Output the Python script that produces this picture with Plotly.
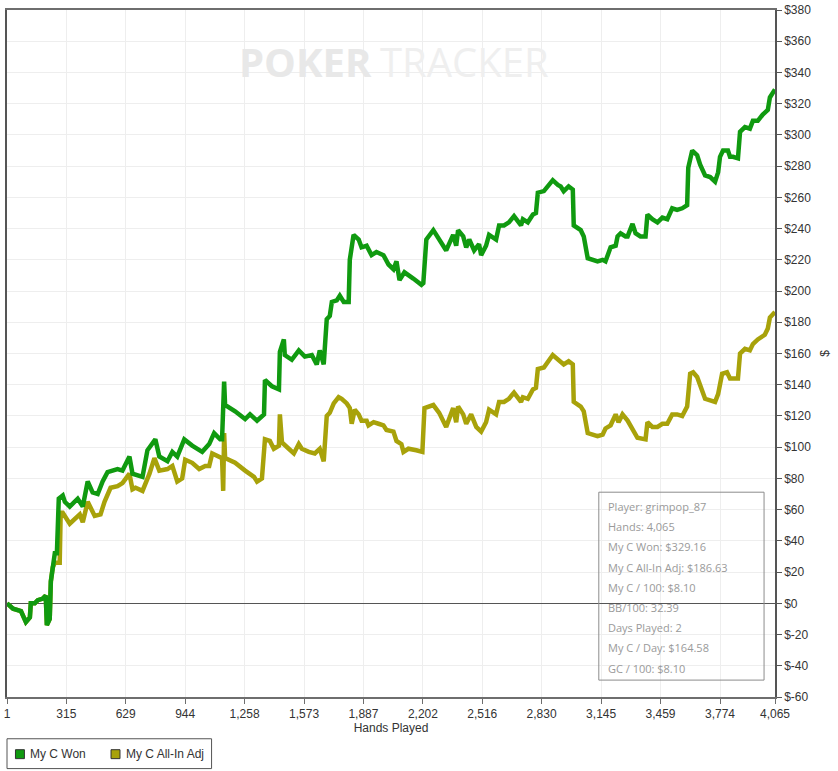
import plotly.graph_objects as go

# ---------------- data ----------------
won_hands = [1, 33, 75, 101, 122, 127, 148, 164, 191, 206, 212, 227, 233, 243, 254, 265, 275,
             296, 307, 333, 375, 402, 428, 454, 481, 507, 533, 586, 612, 649, 665, 718, 744,
             786, 807, 850, 876, 902, 939, 981, 1034, 1071, 1097, 1129, 1139, 1150, 1155,
             1208, 1261, 1287, 1324, 1361, 1366, 1403, 1440, 1445, 1466, 1471, 1508, 1545,
             1577, 1614, 1640, 1656, 1677, 1693, 1709, 1720, 1746, 1762, 1783, 1809, 1815,
             1835, 1862, 1877, 1904, 1930, 1956, 1993, 2020, 2046, 2062, 2078, 2104, 2151,
             2194, 2204, 2220, 2257, 2288, 2325, 2362, 2378, 2388, 2415, 2431, 2447, 2473,
             2499, 2510, 2536, 2552, 2589, 2605, 2631, 2657, 2684, 2721, 2731, 2757, 2784,
             2800, 2810, 2842, 2889, 2916, 2931, 2947, 2973, 2995, 3000, 3037, 3053, 3074,
             3100, 3126, 3153, 3168, 3195, 3222, 3232, 3248, 3274, 3285, 3311, 3327, 3353,
             3380, 3390, 3416, 3443, 3469, 3495, 3521, 3547, 3574, 3600, 3606, 3627, 3653,
             3669, 3695, 3722, 3748, 3764, 3774, 3790, 3816, 3827, 3843, 3869, 3880, 3906,
             3932, 3948, 3974, 4000, 4027, 4038, 4053, 4065]
won_values = [0, -3.5, -5, -12, -9, 0, 0, 2, 3, 5, -14, -10, 14, 23, 32, 32, 67,
              69, 65, 62, 67, 62, 78, 71, 70, 78, 84, 86, 85, 94, 83, 81, 98,
              105, 94, 91, 97, 94, 105, 101, 97, 102, 109, 105, 105, 142, 127,
              123, 118, 121, 117, 121, 143, 139, 137, 161, 169, 159, 156, 162,
              158, 159, 153, 162, 153, 182, 184, 193, 194, 197, 193, 193, 220,
              236, 233, 228, 229, 223, 225, 223, 217, 214, 219, 207, 212, 208,
              204, 205, 233, 239, 233, 226, 236, 229, 239, 235, 228, 233, 226,
              230, 223, 229, 236, 233, 242, 242, 244, 248, 242, 246, 244, 249,
              250, 263, 264, 271, 268, 267, 264, 267, 265, 242, 239, 235, 221,
              220, 219, 220, 219, 228, 229, 235, 237, 235, 235, 243, 237, 235,
              235, 249, 246, 244, 247, 246, 253, 252, 253, 255, 279, 290, 287,
              281, 274, 273, 270, 276, 286, 290, 290, 286, 286, 285, 302, 305,
              304, 309, 309, 313, 316, 324, 327, 329.16]

adj_hands = [1, 33, 75, 101, 122, 127, 148, 164, 191, 206, 212, 227, 233, 243, 254, 280, 285,
             296, 333, 359, 386, 402, 428, 465, 496, 517, 549, 586, 612, 649, 665, 681, 718,
             755, 781, 807, 850, 876, 902, 928, 944, 981, 1018, 1050, 1071, 1087, 1129, 1139,
             1145, 1150, 1155, 1208, 1261, 1308, 1324, 1350, 1366, 1392, 1413, 1440, 1445,
             1456, 1492, 1519, 1545, 1561, 1598, 1630, 1656, 1677, 1693, 1709, 1730, 1756,
             1772, 1799, 1815, 1825, 1841, 1862, 1877, 1904, 1914, 1941, 1967, 1993, 2009,
             2046, 2062, 2088, 2099, 2125, 2167, 2199, 2210, 2246, 2257, 2288, 2325, 2362,
             2378, 2388, 2415, 2431, 2457, 2484, 2510, 2536, 2552, 2589, 2605, 2631, 2657,
             2684, 2721, 2731, 2757, 2784, 2800, 2810, 2842, 2889, 2916, 2947, 2973, 2995,
             3000, 3037, 3053, 3074, 3100, 3126, 3153, 3168, 3195, 3222, 3237, 3258, 3285,
             3311, 3337, 3380, 3390, 3416, 3443, 3469, 3495, 3521, 3547, 3574, 3600, 3616,
             3632, 3653, 3669, 3695, 3722, 3748, 3764, 3785, 3811, 3827, 3869, 3880, 3906,
             3932, 3948, 3974, 4011, 4027, 4038, 4065]
adj_values = [0, -3.5, -5, -12, -9, 0, 0, 2, 3, 5, -14, -10, 14, 23, 26, 26, 58,
              58, 51, 54, 57, 52, 65, 56, 57, 65, 74, 75, 77, 83, 73, 74, 72,
              83, 93, 85, 86, 88, 78, 80, 92, 90, 86, 88, 88, 96, 93, 93,
              72, 109, 93, 90, 85, 81, 78, 80, 105, 104, 99, 101, 121,
              103, 99, 96, 102, 99, 97, 96, 99, 91, 120, 122, 128, 132,
              131, 128, 125, 115, 124, 121, 117, 117, 114, 116, 115, 114, 111,
              110, 104, 102, 97, 99, 98, 97, 125, 127, 127, 122, 113, 125,
              116, 126, 121, 115, 121, 113, 110, 116, 124, 121, 129, 129, 131,
              135, 129, 132, 131, 137, 138, 150, 151, 159, 156, 153, 155, 153,
              129, 126, 123, 109, 108, 107, 108, 112, 114, 121, 116, 121, 117,
              112, 106, 105, 116, 113, 113, 115, 115, 121, 121, 120, 126, 147,
              148, 145, 139, 131, 130, 129, 134, 147, 148, 144, 144, 160, 163,
              162, 166, 169, 172, 176, 183, 186.63]

series_names = ["My C Won", "My C All-In Adj"]
series_colors = ["#109a10", "#a8a20a"]

x_ticks = [1, 315, 629, 944, 1258, 1573, 1887, 2202, 2516, 2830, 3145, 3459, 3774, 4065]
y_ticks = list(range(-60, 381, 20))

stats_lines = [
    "Player: grimpop_87",
    "Hands: 4,065",
    "My C Won: $329.16",
    "My C All-In Adj: $186.63",
    "My C / 100: $8.10",
    "BB/100: 32.39",
    "Days Played: 2",
    "My C / Day: $164.58",
    "GC / 100: $8.10",
]

# ---------------- figure ----------------
W, H = 838, 771
L, R, T, B = 3.5, 775, 6, 697

fig = go.Figure()
fig.add_trace(go.Scatter(x=adj_hands, y=adj_values, mode="lines", name=series_names[1],
                         line=dict(color=series_colors[1], width=4.5), showlegend=False,
                         hoverinfo="skip"))
fig.add_trace(go.Scatter(x=won_hands, y=won_values, mode="lines", name=series_names[0],
                         line=dict(color=series_colors[0], width=4.5), showlegend=False,
                         hoverinfo="skip"))

def px_x(p):
    return (p - L) / (R - L)

def px_y(p):
    return (B - p) / (B - T)

shapes = []
annotations = []

# stats box
shapes.append(dict(type="rect", xref="paper", yref="paper",
                   x0=px_x(598), x1=px_x(764), y0=px_y(680), y1=px_y(491),
                   line=dict(color="#8c8c8c", width=1), fillcolor="rgba(0,0,0,0)",
                   layer="above"))
for i, s in enumerate(stats_lines):
    annotations.append(dict(xref="paper", yref="paper", x=px_x(605), y=px_y(505.5 + i * 20.3),
                            xanchor="left", yanchor="middle", showarrow=False, text=s,
                            font=dict(family="Open Sans, Noto Sans", size=11, color="#9a9a9a")))

# watermark
annotations.append(dict(xref="paper", yref="paper", x=px_x(235), y=px_y(58), xanchor="left",
                        yanchor="middle", showarrow=False, text="<b>POKER</b>",
                        font=dict(family="Open Sans", size=40, color="#e8e8e8")))
annotations.append(dict(xref="paper", yref="paper", x=px_x(376), y=px_y(58), xanchor="left",
                        yanchor="middle", showarrow=False, text="TRACKER",
                        font=dict(family="Open Sans", size=40, color="#efefef")))

# legend (drawn)
shapes.append(dict(type="rect", xref="paper", yref="paper",
                   x0=px_x(3.5), x1=px_x(209), y0=px_y(769), y1=px_y(739),
                   line=dict(color="#555555", width=1), fillcolor="white"))
leg_x = [12, 108]
for i, nm in enumerate(series_names):
    shapes.append(dict(type="rect", xref="paper", yref="paper",
                       x0=px_x(leg_x[i]), x1=px_x(leg_x[i] + 9), y0=px_y(759), y1=px_y(750),
                       line=dict(color="#333333", width=1), fillcolor=series_colors[i]))
    annotations.append(dict(xref="paper", yref="paper", x=px_x(leg_x[i] + 13), y=px_y(754.5),
                            xanchor="left", yanchor="middle", showarrow=False, text=nm,
                            font=dict(family="Liberation Sans, Arial", size=12, color="#333333")))

fig.update_layout(
    width=W, height=H,
    margin=dict(l=L, r=W - R, t=T, b=H - B, pad=0),
    paper_bgcolor="white", plot_bgcolor="white",
    showlegend=False,
    font=dict(family="Liberation Sans, Arial", size=12, color="#333333"),
    shapes=shapes, annotations=annotations,
    xaxis=dict(range=[1, 4065], tickvals=x_ticks, ticktext=[f"{v:,}" for v in x_ticks],
               showgrid=True, gridcolor="#eeeeee", gridwidth=1, zeroline=False,
               showline=True, linecolor="#6e6e6e", linewidth=1.5, mirror=True,
               ticks="outside", ticklen=5, tickcolor="#6e6e6e",
               ticklabeloverflow="allow",
               title=dict(text="Hands Played", standoff=3, font=dict(size=12)),
               tickfont=dict(size=12, color="#333333")),
    yaxis=dict(range=[-60, 380], side="right", tickvals=y_ticks,
               ticktext=[f"${v}" for v in y_ticks],
               showgrid=True, gridcolor="#eeeeee", gridwidth=1,
               zeroline=True, zerolinecolor="#555555", zerolinewidth=1.2,
               showline=True, linecolor="#555555", linewidth=1.5, mirror=True,
               ticks="outside", ticklen=5, tickcolor="#555555",
               ticklabeloverflow="allow",
               title=dict(text="$", standoff=10, font=dict(size=12)),
               tickfont=dict(size=12, color="#333333")),
)

fig.write_html("out.html", config={"displayModeBar": False},
               post_script="document.body.style.margin='0';")
